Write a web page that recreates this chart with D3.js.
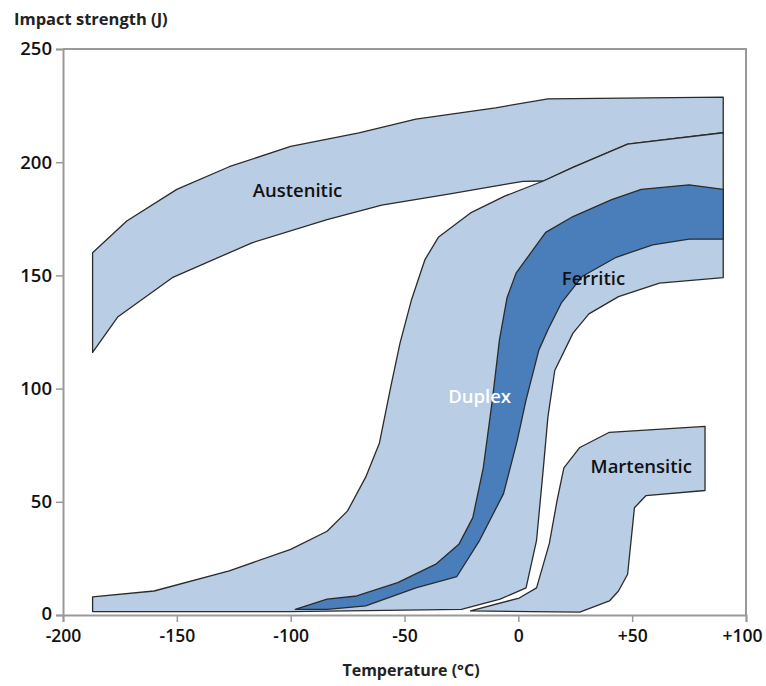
<!DOCTYPE html>
<html>
<head>
<meta charset="utf-8">
<script src="https://cdn.jsdelivr.net/npm/d3@7"></script>
<style>
  body { margin: 0; background: #fff; }
  svg { display: block; }
  text { font-family: "Open Sans", Lato, sans-serif; }
</style>
</head>
<body>
<svg id="chart" width="766" height="686"></svg>
<script>
// ---- data (temperature °C, impact strength J) ----
const xTicks = [-200, -150, -100, -50, 0, 50, 100];
const xTickLabels = ["-200", "-150", "-100", "-50", "0", "+50", "+100"];
const yTicks = [0, 50, 100, 150, 200, 250];

const austenitic = [
  [-187, 116], [-187, 160], [-172, 174], [-150, 188], [-127, 198], [-100, 207],
  [-70, 213], [-45, 219], [-10, 224], [13, 228], [90, 228.7], [90, 213],
  [48, 208], [24, 197.7], [11, 191.7], [2, 191.5], [-4, 190.5], [-30, 186],
  [-60, 181], [-84, 174.6], [-117, 164.4], [-152, 149], [-176, 131.6]
];
const duplexOuter = [
  [-187, 1.5], [-187, 8], [-160, 10.6], [-127, 19.5], [-100, 29], [-84, 37],
  [-75, 46], [-67, 61], [-61, 76], [-56, 101], [-52, 120], [-47, 139],
  [-41, 157], [-35, 167], [-21, 177.6], [-6, 185], [11, 191.7], [24, 197.7],
  [48, 208], [90, 213], [90, 149], [62, 146.6], [44, 140.6], [31, 133],
  [24, 124.5], [16, 108], [13, 87.5], [11, 65], [8, 33], [3.4, 12],
  [-8, 7], [-25, 2.5], [-100, 1.5]
];
const ferritic = [
  [-98, 2.5], [-84, 7], [-71, 8.4], [-53, 14.3], [-36, 22.6], [-26, 31.4],
  [-20, 43], [-15.4, 65], [-11.4, 95], [-8.3, 121.5], [-5, 140], [-1, 151],
  [12, 169], [24, 176], [41, 183.5], [54, 188], [75, 190], [90, 188],
  [90, 166], [75, 166], [59, 163.5], [43, 158], [28, 149.5], [19, 138],
  [13, 126], [9, 117], [3.4, 95], [-0.5, 77], [-6.5, 53.6], [-17, 33],
  [-27, 17], [-45, 12], [-67, 4], [-84, 2.5]
];
const martensitic = [
  [-21, 1.8], [0.4, 7.5], [8, 12], [13.6, 31.5], [17, 50.5], [20, 65],
  [27, 74], [40, 80.7], [82, 83.3], [82, 55], [56, 52.7], [51, 47.4],
  [48, 18], [44, 10.6], [40, 6.2], [27, 1.3]
];

const regions = [
  { name: "Austenitic", pts: austenitic, fill: "#b9cde5" },
  { name: "Duplex", pts: duplexOuter, fill: "#b9cde5" },
  { name: "Ferritic", pts: ferritic, fill: "#4a7ebb" },
  { name: "Martensitic", pts: martensitic, fill: "#b9cde5" }
];
const labels = [
  { text: "Austenitic", x: -97, y: 187, color: "#111" },
  { text: "Ferritic", x: 33, y: 148, color: "#111" },
  { text: "Duplex", x: -17, y: 96, color: "#fff" },
  { text: "Martensitic", x: 54, y: 65, color: "#111" }
];

// ---- chart ----
const svg = d3.select("#chart");
const x = d3.scaleLinear().domain([-200, 100]).range([63, 746]);
const y = d3.scaleLinear().domain([0, 250]).range([615, 49]);

const line = d3.line().x(d => x(d[0])).y(d => y(d[1])).curve(d3.curveLinearClosed);

svg.append("g").selectAll("path").data(regions).join("path")
  .attr("d", d => line(d.pts))
  .attr("fill", d => d.fill)
  .attr("stroke", "#2b2b2b")
  .attr("stroke-width", 1.3)
  .attr("stroke-linejoin", "round");

// frame (top & right)
svg.append("path")
  .attr("d", `M${x(-200)},${y(250)}H${x(100)}V${y(0)}`)
  .attr("fill", "none").attr("stroke", "#999").attr("stroke-width", 2);

// axes
const yAxis = svg.append("g").attr("transform", `translate(${x(-200)},0)`)
  .call(d3.axisLeft(y).tickValues(yTicks).tickSize(7).tickPadding(4));
const xAxis = svg.append("g").attr("transform", `translate(0,${y(0)})`)
  .call(d3.axisBottom(x).tickValues(xTicks).tickFormat((d, i) => xTickLabels[i]).tickSize(7).tickPadding(8));

[yAxis, xAxis].forEach(g => {
  g.select(".domain").attr("stroke", "#999").attr("stroke-width", 2);
  g.selectAll(".tick line").attr("stroke", "#999").attr("stroke-width", 1.5);
  g.selectAll(".tick text").attr("fill", "#111")
    .style("font-family", "'Open Sans', sans-serif").style("font-weight", "600");
});
yAxis.selectAll(".tick text").style("font-size", "18.5px")
  .attr("dy", d => d === 0 ? "0.22em" : "0.32em");
xAxis.selectAll(".tick text").style("font-size", "17.5px")
  .attr("dx", d => d === 100 ? -4 : 0);

// region labels
svg.append("g").selectAll("text").data(labels).join("text")
  .attr("x", d => x(d.x)).attr("y", d => y(d.y))
  .attr("text-anchor", "middle").attr("dominant-baseline", "middle")
  .attr("fill", d => d.color)
  .style("font-size", "18.5px").style("font-weight", "600")
  .text(d => d.text);

// axis titles
svg.append("text").attr("x", 14).attr("y", 25)
  .style("font-size", "16.5px").style("font-weight", "bold").attr("fill", "#222")
  .text("Impact strength (J)");
svg.append("text").attr("x", 411).attr("y", 676).attr("text-anchor", "middle")
  .style("font-size", "16px").style("font-weight", "bold").attr("fill", "#222")
  .text("Temperature (°C)");
</script>
</body>
</html>
